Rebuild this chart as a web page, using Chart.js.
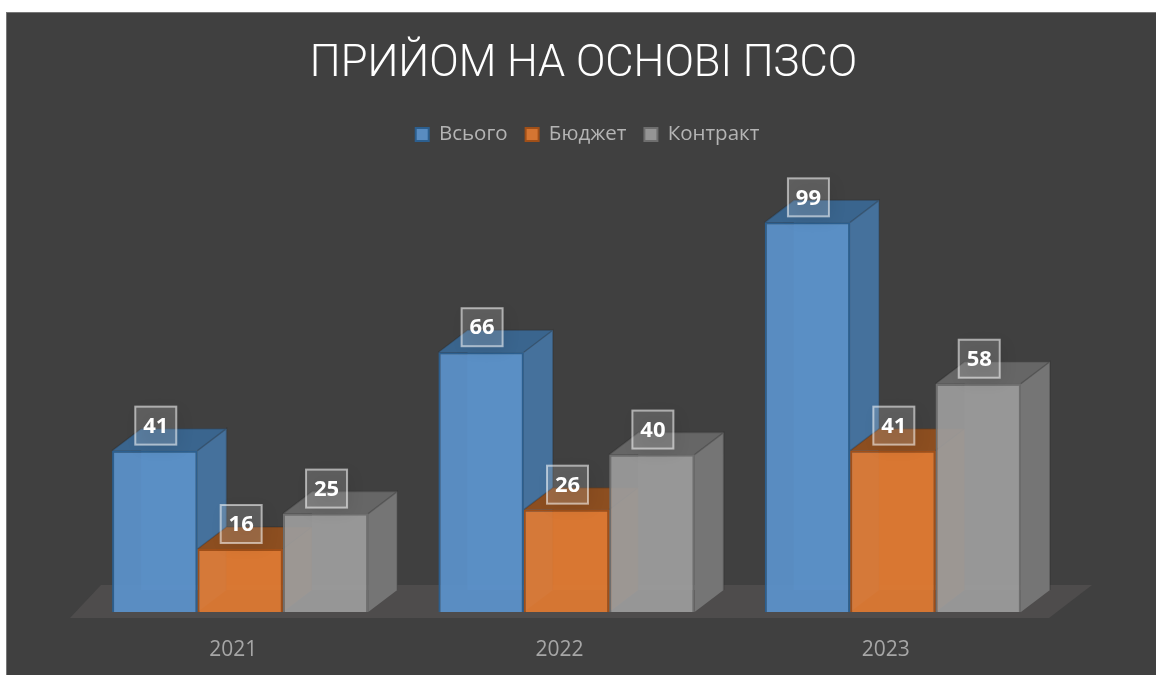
<!DOCTYPE html>
<html lang="uk">
<head>
<meta charset="utf-8">
<title>Прийом на основі ПЗСО</title>
<script src="https://cdn.jsdelivr.net/npm/chart.js@4"></script>
<style>
  html, body { margin: 0; padding: 0; background: #fff; overflow: hidden; }
  #wrap { position: absolute; left: 6px; top: 12px; width: 1149px; height: 662px; background: #404040; border-top: 1px solid #777; border-left: 1px solid #777; }
</style>
</head>
<body>
<div id="wrap"><canvas id="cAdm"></canvas></div>
<script>
const years = ['2021', '2022', '2023'];
const total = [41, 66, 99];
const budget = [16, 26, 41];
const contract = [25, 40, 58];

// 3D depth of the boxes, px
const DX = 29, DY = 22;

const faces = [
  { side: '#45719c', top: '#3a658e', back: 'rgba(100,160,215,.35)' },
  { side: '#a05a28', top: '#8c4e20', back: 'rgba(240,140,70,.35)' },
  { side: '#757575', top: '#666666', back: 'rgba(190,190,190,.25)' }
];

function poly(ctx, pts, fill) {
  ctx.beginPath();
  pts.forEach((p, i) => i ? ctx.lineTo(p[0], p[1]) : ctx.moveTo(p[0], p[1]));
  ctx.closePath();
  ctx.fillStyle = fill;
  ctx.fill();
}

const box3d = {
  id: 'box3d',
  beforeDatasetsDraw(chart) {
    const { ctx, chartArea: a } = chart;
    const y = a.bottom;
    ctx.save();
    poly(ctx, [[a.left - 7, y + 6], [a.right - 7, y + 6], [a.right + 36, y - 27], [a.left + 24, y - 27]], '#4e4c4c');
    // sides and tops go under every front face, left to right
    chart.data.datasets.forEach((ds, i) => {
      const f = faces[i];
      chart.getDatasetMeta(i).data.forEach(bar => {
        const l = bar.x - bar.width / 2, r = bar.x + bar.width / 2, t = bar.y, b = bar.base;
        poly(ctx, [[l + DX, t - DY], [r + DX, t - DY], [r + DX, b - DY], [l + DX, b - DY]], f.back);
        poly(ctx, [[r, t], [r + DX, t - DY], [r + DX, b - DY], [r, b]], f.side);
        poly(ctx, [[l, t], [l + DX, t - DY], [r + DX, t - DY], [r, t]], f.top);
        ctx.strokeStyle = 'rgba(30,30,30,.25)';
        ctx.lineWidth = 1.5;
        ctx.beginPath();
        ctx.moveTo(r, t); ctx.lineTo(r + DX, t - DY); ctx.lineTo(r + DX, b - DY);
        ctx.moveTo(l, t); ctx.lineTo(l + DX, t - DY); ctx.lineTo(r + DX, t - DY);
        ctx.stroke();
      });
    });
    ctx.restore();
  },
  afterDatasetsDraw(chart) {
    const { ctx } = chart;
    const w = 41, h = 38;
    chart.data.datasets.forEach((ds, i) => {
      chart.getDatasetMeta(i).data.forEach((bar, j) => {
        const cx = bar.x + 1, cy = bar.y - 25;
        ctx.save();
        ctx.shadowColor = 'rgba(0,0,0,.45)';
        ctx.shadowBlur = 16;
        ctx.shadowOffsetX = 4;
        ctx.shadowOffsetY = 4;
        ctx.fillStyle = 'rgba(255,255,255,.16)';
        ctx.fillRect(cx - w / 2, cy - h / 2, w, h);
        ctx.restore();
        ctx.strokeStyle = 'rgba(255,255,255,.55)';
        ctx.lineWidth = 2;
        ctx.strokeRect(cx - w / 2, cy - h / 2, w, h);
        ctx.fillStyle = '#fff';
        ctx.font = '700 22px "Open Sans"';
        ctx.textAlign = 'center';
        ctx.textBaseline = 'middle';
        ctx.fillText(ds.data[j], cx, cy + 1);
      });
    });
  },
  // legend sits a bit right of the title in the original
  afterLayout(chart) {
    chart.legend.left += 4;
    chart.legend.right += 4;
  }
};

const sideAxis = w => ({
  display: true,
  grid: { display: false },
  border: { display: false },
  ticks: { display: false },
  afterFit(axis) { axis.width = w; }
});

new Chart(document.getElementById('cAdm').getContext('2d'), {
  type: 'bar',
  data: {
    labels: years,
    datasets: [
      { label: 'Всього', data: total, backgroundColor: 'rgba(91,146,203,.93)', borderColor: '#2c5f8f', hoverBackgroundColor: 'rgba(91,146,203,.93)' },
      { label: 'Бюджет', data: budget, backgroundColor: 'rgba(224,122,50,.93)', borderColor: '#a04f18', hoverBackgroundColor: 'rgba(224,122,50,.93)' },
      { label: 'Контракт', data: contract, backgroundColor: 'rgba(156,156,156,.93)', borderColor: '#6e6e6e', hoverBackgroundColor: 'rgba(156,156,156,.93)' }
    ]
  },
  options: {
    responsive: true, maintainAspectRatio: false,
    animation: false,
    layout: { padding: { left: 4, right: 0, top: 28, bottom: 0 } },
    datasets: { bar: { categoryPercentage: .785, barPercentage: 1, borderWidth: 2 } },
    plugins: {
      title: {
        display: true, text: 'ПРИЙОМ НА ОСНОВІ ПЗСО', color: '#fff',
        font: { family: 'Roboto', size: 43.5, weight: '300', lineHeight: 1.13 },
        padding: { top: 0, bottom: 16 }
      },
      legend: {
        labels: { color: '#b4b4b4', boxWidth: 13, boxHeight: 13, padding: 18, font: { family: 'Open Sans', size: 20.5 } }
      },
      tooltip: { enabled: false }
    },
    scales: {
      x: {
        grid: { display: false }, border: { display: false },
        ticks: { color: '#a6a6a6', padding: 17, labelOffset: -7, font: { family: 'Open Sans', size: 21 } },
        afterFit(axis) { axis.height = 63; }
      },
      y: { ...sideAxis(66), min: 0, max: 116.2 },
      y1: { ...sideAxis(100), position: 'right' }
    }
  },
  plugins: [box3d]
});
</script>
</body>
</html>
